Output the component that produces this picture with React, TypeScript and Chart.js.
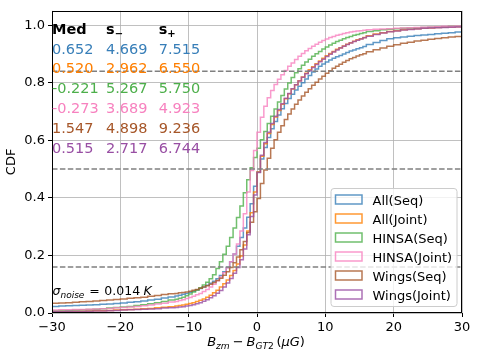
import React, { useEffect, useRef } from 'react';
import { Chart, registerables } from 'chart.js';

Chart.register(...registerables);

// Right bin edges of the cumulative step histograms (μG)
const xEdges = [
  -30, -29, -28, -27, -26, -25, -24, -23, -22, -21, -20, -19, -18, -17, -16, -15, -14, -13,
  -12, -11.5, -11, -10.5, -10, -9.5, -9, -8.5, -8, -7.5, -7, -6.5, -6, -5.5, -5, -4.5, -4, -3.5, -3, -2.5, -2, -1.5, -1, -0.5,
  0, 0.5, 1, 1.5, 2, 2.5, 3, 3.5, 4, 4.5, 5, 5.5, 6, 6.5, 7, 7.5, 8, 8.5, 9, 9.5, 10, 10.5, 11, 11.5, 12, 12.5, 13, 13.5, 14, 14.5, 15, 15.5, 16,
  17, 18, 19, 20, 21, 22, 23, 24, 25, 26, 27, 28, 29, 30,
];

const allSeq = [
  0.022, 0.023, 0.024, 0.025, 0.026, 0.027, 0.028, 0.029, 0.030, 0.031, 0.033, 0.035, 0.037, 0.039, 0.042, 0.045, 0.048, 0.052,
  0.056, 0.059, 0.062, 0.065, 0.068, 0.072, 0.076, 0.080, 0.085, 0.090, 0.096, 0.103, 0.110, 0.119, 0.130, 0.143, 0.158, 0.178, 0.205, 0.232, 0.262, 0.295, 0.333, 0.380,
  0.440, 0.490, 0.535, 0.575, 0.610, 0.640, 0.665, 0.688, 0.710, 0.728, 0.745, 0.760, 0.775, 0.788, 0.800, 0.813, 0.825, 0.837, 0.848, 0.857, 0.865, 0.872, 0.879, 0.885, 0.890, 0.895, 0.900, 0.905, 0.910, 0.914, 0.918, 0.922, 0.926,
  0.933, 0.940, 0.947, 0.953, 0.956, 0.959, 0.962, 0.964, 0.966, 0.968, 0.970, 0.972, 0.974, 0.976,
];

const allJoint = [
  0.004, 0.004, 0.005, 0.005, 0.006, 0.006, 0.007, 0.008, 0.008, 0.009, 0.010, 0.011, 0.012, 0.013, 0.015, 0.016, 0.018, 0.020,
  0.022, 0.024, 0.026, 0.028, 0.030, 0.033, 0.036, 0.040, 0.044, 0.049, 0.055, 0.062, 0.070, 0.079, 0.090, 0.102, 0.115, 0.130, 0.148, 0.170, 0.198, 0.236, 0.285, 0.348,
  0.420, 0.490, 0.545, 0.588, 0.624, 0.655, 0.681, 0.704, 0.725, 0.744, 0.762, 0.778, 0.793, 0.807, 0.820, 0.833, 0.845, 0.856, 0.866, 0.876, 0.885, 0.894, 0.902, 0.909, 0.916, 0.922, 0.928, 0.934, 0.939, 0.944, 0.949, 0.953, 0.957,
  0.963, 0.969, 0.974, 0.978, 0.981, 0.984, 0.986, 0.988, 0.989, 0.990, 0.992, 0.993, 0.994, 0.995,
];

const hinsaSeq = [
  0.008, 0.008, 0.009, 0.009, 0.010, 0.011, 0.012, 0.013, 0.015, 0.017, 0.019, 0.021, 0.023, 0.026, 0.029, 0.032, 0.036, 0.040,
  0.045, 0.048, 0.051, 0.055, 0.060, 0.066, 0.073, 0.080, 0.088, 0.097, 0.107, 0.119, 0.133, 0.155, 0.178, 0.204, 0.232, 0.262, 0.295, 0.332, 0.372, 0.418, 0.463, 0.505,
  0.540, 0.572, 0.602, 0.631, 0.658, 0.684, 0.709, 0.733, 0.756, 0.778, 0.799, 0.818, 0.835, 0.849, 0.861, 0.872, 0.882, 0.892, 0.901, 0.909, 0.917, 0.924, 0.931, 0.937, 0.943, 0.948, 0.953, 0.957, 0.961, 0.965, 0.968, 0.971, 0.974,
  0.978, 0.981, 0.984, 0.986, 0.988, 0.989, 0.990, 0.991, 0.992, 0.993, 0.994, 0.995, 0.996, 0.996,
];

const hinsaJoint = [
  0.010, 0.010, 0.011, 0.011, 0.012, 0.012, 0.013, 0.014, 0.015, 0.016, 0.018, 0.019, 0.021, 0.023, 0.025, 0.028, 0.031, 0.034,
  0.038, 0.040, 0.043, 0.046, 0.050, 0.054, 0.058, 0.063, 0.068, 0.075, 0.082, 0.090, 0.100, 0.112, 0.125, 0.140, 0.157, 0.178, 0.205, 0.240, 0.285, 0.345, 0.420, 0.495,
  0.565, 0.628, 0.680, 0.718, 0.748, 0.773, 0.794, 0.812, 0.828, 0.843, 0.857, 0.869, 0.881, 0.892, 0.902, 0.911, 0.919, 0.927, 0.934, 0.941, 0.947, 0.952, 0.957, 0.961, 0.965, 0.968, 0.971, 0.974, 0.976, 0.978, 0.980, 0.981, 0.982,
  0.984, 0.986, 0.987, 0.988, 0.989, 0.990, 0.991, 0.992, 0.993, 0.994, 0.995, 0.996, 0.996, 0.997,
];

const wingsSeq = [
  0.033, 0.034, 0.035, 0.036, 0.037, 0.039, 0.040, 0.042, 0.043, 0.045, 0.047, 0.049, 0.051, 0.053, 0.055, 0.058, 0.061, 0.064,
  0.067, 0.068, 0.070, 0.071, 0.073, 0.076, 0.079, 0.082, 0.086, 0.090, 0.095, 0.100, 0.106, 0.113, 0.121, 0.131, 0.143, 0.158, 0.175, 0.195, 0.220, 0.248, 0.280, 0.315,
  0.352, 0.398, 0.450, 0.497, 0.538, 0.572, 0.602, 0.628, 0.651, 0.672, 0.691, 0.709, 0.725, 0.740, 0.754, 0.767, 0.779, 0.791, 0.802, 0.813, 0.823, 0.833, 0.842, 0.850, 0.857, 0.864, 0.871, 0.877, 0.883, 0.888, 0.893, 0.897, 0.901,
  0.908, 0.915, 0.921, 0.927, 0.932, 0.937, 0.941, 0.945, 0.948, 0.951, 0.954, 0.956, 0.959, 0.961,
];

const wingsJoint = [
  0.004, 0.004, 0.004, 0.005, 0.005, 0.005, 0.006, 0.007, 0.007, 0.008, 0.009, 0.010, 0.011, 0.012, 0.013, 0.014, 0.015, 0.017,
  0.018, 0.019, 0.021, 0.022, 0.024, 0.026, 0.029, 0.032, 0.036, 0.041, 0.046, 0.053, 0.060, 0.069, 0.078, 0.090, 0.104, 0.120, 0.138, 0.158, 0.185, 0.222, 0.272, 0.335,
  0.410, 0.488, 0.548, 0.592, 0.628, 0.658, 0.684, 0.707, 0.727, 0.746, 0.763, 0.779, 0.793, 0.806, 0.819, 0.831, 0.842, 0.853, 0.863, 0.873, 0.882, 0.891, 0.899, 0.907, 0.914, 0.921, 0.927, 0.933, 0.938, 0.943, 0.948, 0.952, 0.956,
  0.962, 0.968, 0.973, 0.977, 0.980, 0.983, 0.985, 0.987, 0.989, 0.990, 0.991, 0.992, 0.993, 0.994,
];

const seriesLabels = ['All(Seq)', 'All(Joint)', 'HINSA(Seq)', 'HINSA(Joint)', 'Wings(Seq)', 'Wings(Joint)'];
const seriesValues = [allSeq, allJoint, hinsaSeq, hinsaJoint, wingsSeq, wingsJoint];
const seriesColors = ['#377eb8', '#ff7f00', '#4daf4a', '#f781bf', '#a65628', '#984ea3'];

const medVals = ['0.652', '0.520', '-0.221', '-0.273', '1.547', '0.515'];
const sMinusVals = ['4.669', '2.962', '5.267', '3.689', '4.898', '2.717'];
const sPlusVals = ['7.515', '6.550', '5.750', '4.923', '9.236', '6.744'];

const refLevels = [0.16, 0.5, 0.84];
const xTicks = [-30, -20, -10, 0, 10, 20, 30];
const yTicks = [0, 0.2, 0.4, 0.6, 0.8, 1.0];

const FF = '"DejaVu Sans"';

function rgba(hex: string, a: number) {
  const n = parseInt(hex.slice(1), 16);
  return `rgba(${(n >> 16) & 255},${(n >> 8) & 255},${n & 255},${a})`;
}

type Seg = { t?: string; font?: string; dy?: number; gap?: number };

function drawRich(ctx: CanvasRenderingContext2D, segs: Seg[], x: number, y: number, align: 'left' | 'center') {
  let total = 0;
  for (const s of segs) {
    if (s.gap) total += s.gap;
    else {
      ctx.font = s.font!;
      total += ctx.measureText(s.t!).width;
    }
  }
  let cx = align === 'center' ? x - total / 2 : x;
  for (const s of segs) {
    if (s.gap) {
      cx += s.gap;
      continue;
    }
    ctx.font = s.font!;
    ctx.fillText(s.t!, cx, y + (s.dy || 0));
    cx += ctx.measureText(s.t!).width;
  }
}

const decorPlugin = {
  id: 'decor',
  afterDraw(chart: any) {
    const ctx: CanvasRenderingContext2D = chart.ctx;
    const a = chart.chartArea;
    ctx.save();

    // frame
    ctx.strokeStyle = '#000';
    ctx.lineWidth = 1;
    const l = Math.round(a.left) + 0.5;
    const r = Math.round(a.right) - 0.5;
    const t = Math.round(a.top) + 0.5;
    const b = Math.round(a.bottom) - 0.5;
    ctx.strokeRect(l, t, r - l, b - t);

    ctx.textBaseline = 'alphabetic';
    ctx.textAlign = 'left';

    // table
    ctx.fillStyle = '#000';
    const colX = [52, 106, 158.7];
    const tSize = 14.5;
    drawRich(ctx, [{ t: 'Med', font: `bold ${tSize}px ${FF}` }], colX[0], 33.5, 'left');
    drawRich(ctx, [{ t: 's', font: `bold ${tSize}px ${FF}` }, { t: '\u2212', font: `bold 10px ${FF}`, dy: 3 }], colX[1], 33.5, 'left');
    drawRich(ctx, [{ t: 's', font: `bold ${tSize}px ${FF}` }, { t: '+', font: `bold 10px ${FF}`, dy: 3 }], colX[2], 33.5, 'left');
    ctx.font = `${tSize}px ${FF}`;
    for (let i = 0; i < medVals.length; i++) {
      const y = 53.5 + i * 19.8;
      ctx.fillStyle = seriesColors[i];
      ctx.fillText(medVals[i], colX[0], y);
      ctx.fillText(sMinusVals[i], colX[1], y);
      ctx.fillText(sPlusVals[i], colX[2], y);
    }

    // noise annotation
    ctx.fillStyle = '#000';
    drawRich(
      ctx,
      [
        { t: '\u03c3', font: `italic 12.5px ${FF}` },
        { t: 'noise', font: `italic 9px ${FF}`, dy: 3 },
        { gap: 5 },
        { t: '=', font: `12.5px ${FF}` },
        { gap: 4.5 },
        { t: '0.014', font: `12.5px ${FF}` },
        { gap: 3.5 },
        { t: 'K', font: `italic 12.5px ${FF}` },
      ],
      52.5,
      294.5,
      'left'
    );

    // x axis label
    drawRich(
      ctx,
      [
        { t: 'B', font: `italic 13px ${FF}` },
        { t: 'zm', font: `italic 9.1px ${FF}`, dy: 3 },
        { gap: 3 },
        { t: '\u2212', font: `13px ${FF}` },
        { gap: 3 },
        { t: 'B', font: `italic 13px ${FF}` },
        { t: 'GT', font: `italic 9.1px ${FF}`, dy: 3 },
        { t: '2', font: `9.1px ${FF}`, dy: 3 },
        { gap: 2.5 },
        { t: '(', font: `13px ${FF}` },
        { t: '\u03bc', font: `italic 13px ${FF}` },
        { t: 'G', font: `italic 13px ${FF}` },
        { t: ')', font: `13px ${FF}` },
      ],
      256,
      346,
      'center'
    );

    // y axis label
    ctx.save();
    ctx.translate(12, (a.top + a.bottom) / 2);
    ctx.rotate(-Math.PI / 2);
    ctx.textAlign = 'center';
    ctx.textBaseline = 'middle';
    ctx.font = `13px ${FF}`;
    ctx.fillStyle = '#000';
    ctx.fillText('CDF', 0, 0);
    ctx.restore();

    // legend
    const lx = 331, ly = 188.5, lw = 126, lh = 118;
    ctx.beginPath();
    (ctx as any).roundRect(lx, ly, lw, lh, 3);
    ctx.fillStyle = 'rgba(255,255,255,0.8)';
    ctx.fill();
    ctx.strokeStyle = '#cccccc';
    ctx.lineWidth = 1;
    ctx.stroke();
    ctx.font = `13px ${FF}`;
    for (let i = 0; i < seriesLabels.length; i++) {
      const top = 195 + i * 19;
      ctx.strokeStyle = rgba(seriesColors[i], 0.8);
      ctx.lineWidth = 1.5;
      ctx.strokeRect(335.5, top, 26.5, 9);
      ctx.fillStyle = '#000';
      ctx.fillText(seriesLabels[i], 372.5, top + 10);
    }

    ctx.restore();
  },
};

export default function App() {
  const ref = useRef<HTMLCanvasElement>(null);

  useEffect(() => {
    document.body.style.margin = '0';
    const canvas = ref.current;
    if (!canvas) return;

    const datasets: any[] = seriesValues.map((vals, i) => ({
      label: seriesLabels[i],
      data: xEdges.map((x, j) => ({ x, y: vals[j] })),
      borderColor: rgba(seriesColors[i], 0.8),
      backgroundColor: 'transparent',
      borderWidth: 1.5,
      pointRadius: 0,
      stepped: 'after',
      fill: false,
      order: 10 - i,
    }));
    refLevels.forEach((lv) => {
      datasets.push({
        label: 'ref' + lv,
        data: [
          { x: -30, y: lv },
          { x: 30, y: lv },
        ],
        borderColor: '#808080',
        borderWidth: 1.5,
        borderDash: [5.5, 2.4],
        pointRadius: 0,
        fill: false,
        order: 1,
      });
    });

    const chart = new Chart(canvas, {
      type: 'line',
      data: { datasets },
      options: {
        animation: false,
        responsive: false,
        devicePixelRatio: 1,
        layout: { padding: { top: 7, right: 16, left: 0, bottom: 0 } },
        plugins: { legend: { display: false }, tooltip: { enabled: false } },
        scales: {
          x: {
            type: 'linear',
            min: -30,
            max: 30,
            afterBuildTicks: (s: any) => {
              s.ticks = xTicks.map((v) => ({ value: v }));
            },
            afterFit: (s: any) => {
              s.height = 45;
            },
            ticks: {
              autoSkip: false,
              maxRotation: 0,
              padding: 3,
              color: '#000',
              font: { family: 'DejaVu Sans', size: 13 },
              callback: (v: any) => (v < 0 ? '\u2212' + Math.abs(v) : String(v)),
            },
            grid: { color: '#b0b0b0', lineWidth: 0.8, tickColor: '#000', tickLength: 4, tickWidth: 1, drawTicks: true },
            border: { display: false },
          },
          y: {
            type: 'linear',
            min: 0,
            max: 1.05,
            afterBuildTicks: (s: any) => {
              s.ticks = yTicks.map((v) => ({ value: v }));
            },
            afterFit: (s: any) => {
              s.width = 52;
            },
            ticks: {
              padding: 3,
              color: '#000',
              font: { family: 'DejaVu Sans', size: 13 },
              callback: (v: any) => Number(v).toFixed(1),
            },
            grid: { color: '#b0b0b0', lineWidth: 0.8, tickColor: '#000', tickLength: 4, tickWidth: 1, drawTicks: true },
            border: { display: false },
          },
        },
      } as any,
      plugins: [decorPlugin],
    });

    return () => chart.destroy();
  }, []);

  return (
    <div style={{ width: 478, height: 358 }}>
      <canvas ref={ref} width={478} height={358} style={{ display: 'block' }} />
    </div>
  );
}
